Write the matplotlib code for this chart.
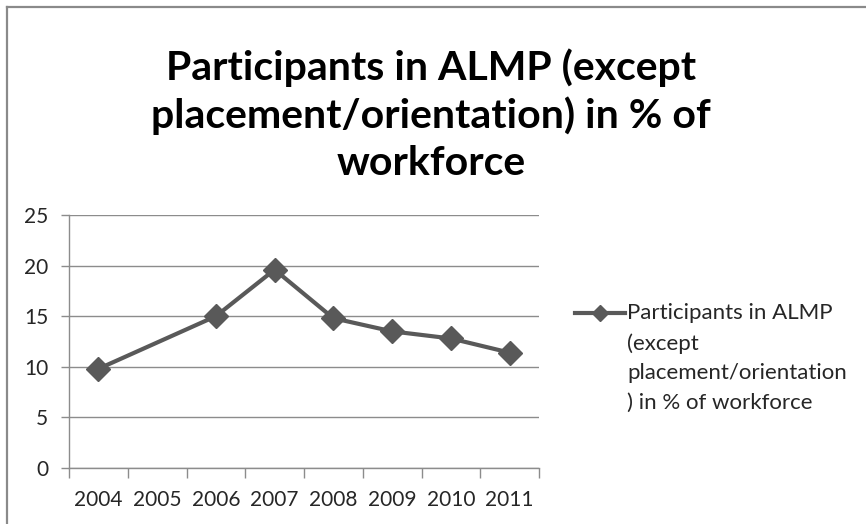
import numpy as np
import matplotlib.pyplot as plt
from matplotlib.lines import Line2D

# Data (2005 has no value)
years = ['2004', '2005', '2006', '2007', '2008', '2009', '2010', '2011']
participants = [9.8, np.nan, 15.0, 19.6, 14.8, 13.5, 12.8, 11.4]
y_ticks = [0, 5, 10, 15, 20, 25]

title = "Participants in ALMP (except\nplacement/orientation) in % of\nworkforce"
legend_label = "Participants in ALMP\n(except\nplacement/orientation\n) in % of workforce"

LINE_COLOR = '#595959'
GRID_COLOR = '#8c8c8c'
FONT = 'Lato'

W, H = 866, 524
fig = plt.figure(figsize=(W / 100, H / 100), dpi=100)
fig.patch.set_facecolor('white')

# Outer chart border (only top/left visible in the crop)
fig.add_artist(Line2D([7 / W, 7 / W], [0, 1 - 7 / H], transform=fig.transFigure,
                      color='#8a8a8a', lw=1.6))
fig.add_artist(Line2D([7 / W, 1], [1 - 7 / H, 1 - 7 / H], transform=fig.transFigure,
                      color='#8a8a8a', lw=1.6))

ax = fig.add_axes([69 / W, 1 - 468 / H, (539 - 69) / W, (468 - 215) / H])

x = np.arange(len(years))
vals = np.array(participants)
mask = ~np.isnan(vals)
# connect across the missing year like the original
ax.plot(x[mask], vals[mask], color=LINE_COLOR, lw=3, marker='D', markersize=12,
        markeredgecolor=LINE_COLOR, markerfacecolor=LINE_COLOR, zorder=3, clip_on=False)

ax.set_xlim(-0.5, len(years) - 0.5)
ax.set_ylim(0, 25)
ax.set_yticks(y_ticks)
ax.set_yticklabels([str(t) for t in y_ticks], fontsize=15, family=FONT, color='#262626')
ax.set_xticks(x)
ax.set_xticklabels(years, fontsize=15, family=FONT, color='#262626')
ax.tick_params(axis='x', length=0, pad=16)
ax.set_xticks(np.arange(len(years) + 1) - 0.5, minor=True)
ax.tick_params(axis='x', which='minor', length=7, color=GRID_COLOR, width=1)
ax.tick_params(axis='y', length=6, color=GRID_COLOR, width=1, pad=9)

ax.grid(axis='y', color=GRID_COLOR, lw=1)
ax.set_axisbelow(True)
for side in ['top', 'right']:
    ax.spines[side].set_visible(False)
for side in ['left', 'bottom']:
    ax.spines[side].set_color(GRID_COLOR)
    ax.spines[side].set_linewidth(1)

fig.text(431 / W, 1 - 115 / H, title, ha='center', va='center', fontsize=29.5,
         fontweight='bold', family=FONT, color='black', linespacing=1.32)

# Legend drawn by hand to match the wrapped label
fig.add_artist(Line2D([575 / W, 625 / W], [1 - 313 / H, 1 - 313 / H], transform=fig.transFigure,
                      color=LINE_COLOR, lw=3))
fig.add_artist(Line2D([600 / W], [1 - 313 / H], transform=fig.transFigure, marker='D',
                      markersize=8, color=LINE_COLOR, lw=0))
fig.text(627 / W, 1 - 303 / H, legend_label, ha='left', va='top', fontsize=16,
         family=FONT, color='#262626', linespacing=1.6)

fig.savefig('out.png', dpi=100)
